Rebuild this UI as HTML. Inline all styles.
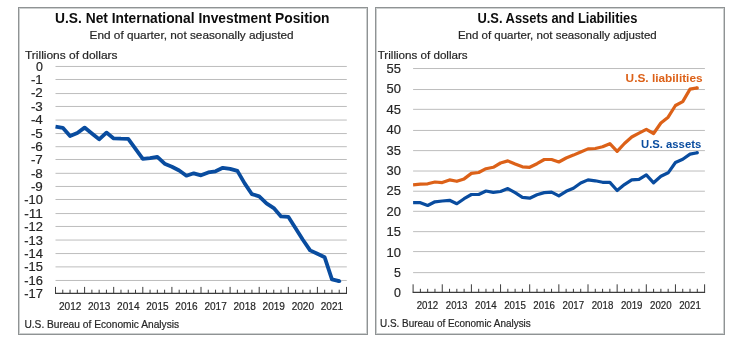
<!DOCTYPE html>
<html><head><meta charset="utf-8"><style>
html,body{margin:0;padding:0;background:#fff;width:739px;height:347px;overflow:hidden}
svg{display:block;will-change:transform;font-family:"Liberation Sans", sans-serif}
</style></head><body>
<svg width="739" height="347" viewBox="0 0 739 347">
<rect width="739" height="347" fill="#fff"/>
<rect x="18.5" y="7.5" width="349" height="327" fill="#fff" stroke="#8f9394" stroke-width="1"/>
<rect x="19.5" y="8.5" width="347" height="325" fill="none" stroke="#cdd0d0" stroke-width="1"/>
<rect x="375.5" y="7.5" width="349" height="327" fill="#fff" stroke="#8f9394" stroke-width="1"/>
<rect x="376.5" y="8.5" width="347" height="325" fill="none" stroke="#cdd0d0" stroke-width="1"/>
<line x1="55.50" y1="66.46" x2="346.80" y2="66.46" stroke="#bdbdbd" stroke-width="1"/>
<line x1="55.50" y1="79.49" x2="346.80" y2="79.49" stroke="#bdbdbd" stroke-width="1"/>
<line x1="55.50" y1="93.55" x2="346.80" y2="93.55" stroke="#bdbdbd" stroke-width="1"/>
<line x1="55.50" y1="106.46" x2="346.80" y2="106.46" stroke="#bdbdbd" stroke-width="1"/>
<line x1="55.50" y1="120.06" x2="346.80" y2="120.06" stroke="#bdbdbd" stroke-width="1"/>
<line x1="55.50" y1="133.55" x2="346.80" y2="133.55" stroke="#bdbdbd" stroke-width="1"/>
<line x1="55.50" y1="146.69" x2="346.80" y2="146.69" stroke="#bdbdbd" stroke-width="1"/>
<line x1="55.50" y1="159.49" x2="346.80" y2="159.49" stroke="#bdbdbd" stroke-width="1"/>
<line x1="55.50" y1="173.32" x2="346.80" y2="173.32" stroke="#bdbdbd" stroke-width="1"/>
<line x1="55.50" y1="186.46" x2="346.80" y2="186.46" stroke="#bdbdbd" stroke-width="1"/>
<line x1="55.50" y1="199.49" x2="346.80" y2="199.49" stroke="#bdbdbd" stroke-width="1"/>
<line x1="55.50" y1="213.55" x2="346.80" y2="213.55" stroke="#bdbdbd" stroke-width="1"/>
<line x1="55.50" y1="226.46" x2="346.80" y2="226.46" stroke="#bdbdbd" stroke-width="1"/>
<line x1="55.50" y1="240.06" x2="346.80" y2="240.06" stroke="#bdbdbd" stroke-width="1"/>
<line x1="55.50" y1="253.55" x2="346.80" y2="253.55" stroke="#bdbdbd" stroke-width="1"/>
<line x1="55.50" y1="266.88" x2="346.80" y2="266.88" stroke="#bdbdbd" stroke-width="1"/>
<line x1="55.50" y1="280.48" x2="346.80" y2="280.48" stroke="#bdbdbd" stroke-width="1"/>
<line x1="55.00" y1="293.40" x2="347.00" y2="293.40" stroke="#3c3c3c" stroke-width="1.2"/>
<line x1="55.50" y1="286.90" x2="55.50" y2="293.40" stroke="#3c3c3c" stroke-width="1"/>
<line x1="62.77" y1="289.70" x2="62.77" y2="293.40" stroke="#3c3c3c" stroke-width="1"/>
<line x1="70.05" y1="289.70" x2="70.05" y2="293.40" stroke="#3c3c3c" stroke-width="1"/>
<line x1="77.33" y1="289.70" x2="77.33" y2="293.40" stroke="#3c3c3c" stroke-width="1"/>
<line x1="84.60" y1="286.90" x2="84.60" y2="293.40" stroke="#3c3c3c" stroke-width="1"/>
<line x1="91.88" y1="289.70" x2="91.88" y2="293.40" stroke="#3c3c3c" stroke-width="1"/>
<line x1="99.15" y1="289.70" x2="99.15" y2="293.40" stroke="#3c3c3c" stroke-width="1"/>
<line x1="106.43" y1="289.70" x2="106.43" y2="293.40" stroke="#3c3c3c" stroke-width="1"/>
<line x1="113.70" y1="286.90" x2="113.70" y2="293.40" stroke="#3c3c3c" stroke-width="1"/>
<line x1="120.98" y1="289.70" x2="120.98" y2="293.40" stroke="#3c3c3c" stroke-width="1"/>
<line x1="128.25" y1="289.70" x2="128.25" y2="293.40" stroke="#3c3c3c" stroke-width="1"/>
<line x1="135.53" y1="289.70" x2="135.53" y2="293.40" stroke="#3c3c3c" stroke-width="1"/>
<line x1="142.80" y1="286.90" x2="142.80" y2="293.40" stroke="#3c3c3c" stroke-width="1"/>
<line x1="150.07" y1="289.70" x2="150.07" y2="293.40" stroke="#3c3c3c" stroke-width="1"/>
<line x1="157.35" y1="289.70" x2="157.35" y2="293.40" stroke="#3c3c3c" stroke-width="1"/>
<line x1="164.62" y1="289.70" x2="164.62" y2="293.40" stroke="#3c3c3c" stroke-width="1"/>
<line x1="171.90" y1="286.90" x2="171.90" y2="293.40" stroke="#3c3c3c" stroke-width="1"/>
<line x1="179.18" y1="289.70" x2="179.18" y2="293.40" stroke="#3c3c3c" stroke-width="1"/>
<line x1="186.45" y1="289.70" x2="186.45" y2="293.40" stroke="#3c3c3c" stroke-width="1"/>
<line x1="193.72" y1="289.70" x2="193.72" y2="293.40" stroke="#3c3c3c" stroke-width="1"/>
<line x1="201.00" y1="286.90" x2="201.00" y2="293.40" stroke="#3c3c3c" stroke-width="1"/>
<line x1="208.28" y1="289.70" x2="208.28" y2="293.40" stroke="#3c3c3c" stroke-width="1"/>
<line x1="215.55" y1="289.70" x2="215.55" y2="293.40" stroke="#3c3c3c" stroke-width="1"/>
<line x1="222.83" y1="289.70" x2="222.83" y2="293.40" stroke="#3c3c3c" stroke-width="1"/>
<line x1="230.10" y1="286.90" x2="230.10" y2="293.40" stroke="#3c3c3c" stroke-width="1"/>
<line x1="237.38" y1="289.70" x2="237.38" y2="293.40" stroke="#3c3c3c" stroke-width="1"/>
<line x1="244.65" y1="289.70" x2="244.65" y2="293.40" stroke="#3c3c3c" stroke-width="1"/>
<line x1="251.93" y1="289.70" x2="251.93" y2="293.40" stroke="#3c3c3c" stroke-width="1"/>
<line x1="259.20" y1="286.90" x2="259.20" y2="293.40" stroke="#3c3c3c" stroke-width="1"/>
<line x1="266.48" y1="289.70" x2="266.48" y2="293.40" stroke="#3c3c3c" stroke-width="1"/>
<line x1="273.75" y1="289.70" x2="273.75" y2="293.40" stroke="#3c3c3c" stroke-width="1"/>
<line x1="281.02" y1="289.70" x2="281.02" y2="293.40" stroke="#3c3c3c" stroke-width="1"/>
<line x1="288.30" y1="286.90" x2="288.30" y2="293.40" stroke="#3c3c3c" stroke-width="1"/>
<line x1="295.58" y1="289.70" x2="295.58" y2="293.40" stroke="#3c3c3c" stroke-width="1"/>
<line x1="302.85" y1="289.70" x2="302.85" y2="293.40" stroke="#3c3c3c" stroke-width="1"/>
<line x1="310.12" y1="289.70" x2="310.12" y2="293.40" stroke="#3c3c3c" stroke-width="1"/>
<line x1="317.40" y1="286.90" x2="317.40" y2="293.40" stroke="#3c3c3c" stroke-width="1"/>
<line x1="324.68" y1="289.70" x2="324.68" y2="293.40" stroke="#3c3c3c" stroke-width="1"/>
<line x1="331.95" y1="289.70" x2="331.95" y2="293.40" stroke="#3c3c3c" stroke-width="1"/>
<line x1="339.23" y1="289.70" x2="339.23" y2="293.40" stroke="#3c3c3c" stroke-width="1"/>
<line x1="346.50" y1="286.90" x2="346.50" y2="293.40" stroke="#3c3c3c" stroke-width="1"/>
<polyline points="55.50,126.60 62.77,127.80 70.05,136.10 77.33,133.00 84.60,127.60 91.88,133.50 99.15,139.30 106.43,132.60 113.70,138.40 120.98,138.70 128.25,138.80 135.53,148.90 142.80,158.90 150.07,158.20 157.35,156.80 164.62,163.70 171.90,166.70 179.18,170.50 186.45,175.70 193.72,173.30 201.00,175.30 208.28,172.40 215.55,171.30 222.83,167.80 230.10,168.80 237.38,170.90 244.65,183.40 251.93,194.20 259.20,196.30 266.48,203.30 273.75,208.10 281.02,216.40 288.30,216.80 295.58,228.30 302.85,239.80 310.12,250.40 317.40,253.80 324.68,257.30 331.95,279.40 339.23,281.20" fill="none" stroke="#094c9f" stroke-width="3.8" stroke-linejoin="round" stroke-linecap="butt"/>
<circle cx="339.23" cy="281.20" r="1.90" fill="#094c9f"/>
<line x1="413.10" y1="272.64" x2="704.90" y2="272.64" stroke="#bdbdbd" stroke-width="1"/>
<line x1="413.10" y1="251.59" x2="704.90" y2="251.59" stroke="#bdbdbd" stroke-width="1"/>
<line x1="413.10" y1="231.65" x2="704.90" y2="231.65" stroke="#bdbdbd" stroke-width="1"/>
<line x1="413.10" y1="211.32" x2="704.90" y2="211.32" stroke="#bdbdbd" stroke-width="1"/>
<line x1="413.10" y1="191.22" x2="704.90" y2="191.22" stroke="#bdbdbd" stroke-width="1"/>
<line x1="413.10" y1="171.02" x2="704.90" y2="171.02" stroke="#bdbdbd" stroke-width="1"/>
<line x1="413.10" y1="150.62" x2="704.90" y2="150.62" stroke="#bdbdbd" stroke-width="1"/>
<line x1="413.10" y1="130.44" x2="704.90" y2="130.44" stroke="#bdbdbd" stroke-width="1"/>
<line x1="413.10" y1="109.34" x2="704.90" y2="109.34" stroke="#bdbdbd" stroke-width="1"/>
<line x1="413.10" y1="89.52" x2="704.90" y2="89.52" stroke="#bdbdbd" stroke-width="1"/>
<line x1="413.10" y1="68.53" x2="704.90" y2="68.53" stroke="#bdbdbd" stroke-width="1"/>
<line x1="412.60" y1="292.30" x2="705.10" y2="292.30" stroke="#3c3c3c" stroke-width="1.2"/>
<line x1="413.10" y1="284.30" x2="413.10" y2="292.30" stroke="#3c3c3c" stroke-width="1"/>
<line x1="420.39" y1="288.80" x2="420.39" y2="292.30" stroke="#3c3c3c" stroke-width="1"/>
<line x1="427.68" y1="288.80" x2="427.68" y2="292.30" stroke="#3c3c3c" stroke-width="1"/>
<line x1="434.96" y1="288.80" x2="434.96" y2="292.30" stroke="#3c3c3c" stroke-width="1"/>
<line x1="442.25" y1="284.30" x2="442.25" y2="292.30" stroke="#3c3c3c" stroke-width="1"/>
<line x1="449.54" y1="288.80" x2="449.54" y2="292.30" stroke="#3c3c3c" stroke-width="1"/>
<line x1="456.83" y1="288.80" x2="456.83" y2="292.30" stroke="#3c3c3c" stroke-width="1"/>
<line x1="464.11" y1="288.80" x2="464.11" y2="292.30" stroke="#3c3c3c" stroke-width="1"/>
<line x1="471.40" y1="284.30" x2="471.40" y2="292.30" stroke="#3c3c3c" stroke-width="1"/>
<line x1="478.69" y1="288.80" x2="478.69" y2="292.30" stroke="#3c3c3c" stroke-width="1"/>
<line x1="485.98" y1="288.80" x2="485.98" y2="292.30" stroke="#3c3c3c" stroke-width="1"/>
<line x1="493.26" y1="288.80" x2="493.26" y2="292.30" stroke="#3c3c3c" stroke-width="1"/>
<line x1="500.55" y1="284.30" x2="500.55" y2="292.30" stroke="#3c3c3c" stroke-width="1"/>
<line x1="507.84" y1="288.80" x2="507.84" y2="292.30" stroke="#3c3c3c" stroke-width="1"/>
<line x1="515.12" y1="288.80" x2="515.12" y2="292.30" stroke="#3c3c3c" stroke-width="1"/>
<line x1="522.41" y1="288.80" x2="522.41" y2="292.30" stroke="#3c3c3c" stroke-width="1"/>
<line x1="529.70" y1="284.30" x2="529.70" y2="292.30" stroke="#3c3c3c" stroke-width="1"/>
<line x1="536.99" y1="288.80" x2="536.99" y2="292.30" stroke="#3c3c3c" stroke-width="1"/>
<line x1="544.27" y1="288.80" x2="544.27" y2="292.30" stroke="#3c3c3c" stroke-width="1"/>
<line x1="551.56" y1="288.80" x2="551.56" y2="292.30" stroke="#3c3c3c" stroke-width="1"/>
<line x1="558.85" y1="284.30" x2="558.85" y2="292.30" stroke="#3c3c3c" stroke-width="1"/>
<line x1="566.14" y1="288.80" x2="566.14" y2="292.30" stroke="#3c3c3c" stroke-width="1"/>
<line x1="573.42" y1="288.80" x2="573.42" y2="292.30" stroke="#3c3c3c" stroke-width="1"/>
<line x1="580.71" y1="288.80" x2="580.71" y2="292.30" stroke="#3c3c3c" stroke-width="1"/>
<line x1="588.00" y1="284.30" x2="588.00" y2="292.30" stroke="#3c3c3c" stroke-width="1"/>
<line x1="595.29" y1="288.80" x2="595.29" y2="292.30" stroke="#3c3c3c" stroke-width="1"/>
<line x1="602.58" y1="288.80" x2="602.58" y2="292.30" stroke="#3c3c3c" stroke-width="1"/>
<line x1="609.86" y1="288.80" x2="609.86" y2="292.30" stroke="#3c3c3c" stroke-width="1"/>
<line x1="617.15" y1="284.30" x2="617.15" y2="292.30" stroke="#3c3c3c" stroke-width="1"/>
<line x1="624.44" y1="288.80" x2="624.44" y2="292.30" stroke="#3c3c3c" stroke-width="1"/>
<line x1="631.73" y1="288.80" x2="631.73" y2="292.30" stroke="#3c3c3c" stroke-width="1"/>
<line x1="639.01" y1="288.80" x2="639.01" y2="292.30" stroke="#3c3c3c" stroke-width="1"/>
<line x1="646.30" y1="284.30" x2="646.30" y2="292.30" stroke="#3c3c3c" stroke-width="1"/>
<line x1="653.59" y1="288.80" x2="653.59" y2="292.30" stroke="#3c3c3c" stroke-width="1"/>
<line x1="660.88" y1="288.80" x2="660.88" y2="292.30" stroke="#3c3c3c" stroke-width="1"/>
<line x1="668.16" y1="288.80" x2="668.16" y2="292.30" stroke="#3c3c3c" stroke-width="1"/>
<line x1="675.45" y1="284.30" x2="675.45" y2="292.30" stroke="#3c3c3c" stroke-width="1"/>
<line x1="682.74" y1="288.80" x2="682.74" y2="292.30" stroke="#3c3c3c" stroke-width="1"/>
<line x1="690.03" y1="288.80" x2="690.03" y2="292.30" stroke="#3c3c3c" stroke-width="1"/>
<line x1="697.31" y1="288.80" x2="697.31" y2="292.30" stroke="#3c3c3c" stroke-width="1"/>
<line x1="704.60" y1="284.30" x2="704.60" y2="292.30" stroke="#3c3c3c" stroke-width="1"/>
<polyline points="413.10,184.80 420.39,184.20 427.68,183.80 434.96,182.00 442.25,182.60 449.54,179.90 456.83,181.30 464.11,178.90 471.40,173.40 478.69,172.50 485.98,168.70 493.26,167.30 500.55,163.00 507.84,160.90 515.12,164.00 522.41,166.80 529.70,167.30 536.99,163.70 544.27,159.50 551.56,159.50 558.85,162.00 566.14,158.00 573.42,155.10 580.71,152.00 588.00,148.90 595.29,148.50 602.58,146.80 609.86,143.70 617.15,151.40 624.44,143.50 631.73,137.00 639.01,133.20 646.30,129.30 653.59,133.50 660.88,123.00 668.16,117.20 675.45,105.50 682.74,101.60 690.03,89.10 697.31,87.90" fill="none" stroke="#dc6118" stroke-width="3.2" stroke-linejoin="round" stroke-linecap="butt"/>
<circle cx="697.31" cy="87.90" r="1.60" fill="#dc6118"/>
<polyline points="413.10,202.70 420.39,202.70 427.68,205.50 434.96,201.80 442.25,201.00 449.54,200.30 456.83,203.70 464.11,198.70 471.40,194.50 478.69,194.50 485.98,191.00 493.26,192.40 500.55,191.50 507.84,188.60 515.12,192.70 522.41,197.30 529.70,198.20 536.99,194.70 544.27,192.60 551.56,192.10 558.85,195.90 566.14,191.30 573.42,188.20 580.71,183.00 588.00,179.90 595.29,180.80 602.58,182.30 609.86,182.40 617.15,190.50 624.44,184.60 631.73,179.90 639.01,179.30 646.30,174.80 653.59,182.80 660.88,176.30 668.16,172.80 675.45,162.50 682.74,159.30 690.03,154.10 697.31,152.70" fill="none" stroke="#094c9f" stroke-width="3.2" stroke-linejoin="round" stroke-linecap="butt"/>
<circle cx="697.31" cy="152.70" r="1.60" fill="#094c9f"/>
<g opacity="0.999">
<text x="55.00" y="23.00" font-size="14.5" font-weight="bold" fill="#0d0d0d" text-anchor="start" textLength="274.50" lengthAdjust="spacingAndGlyphs">U.S. Net International Investment Position</text>
<text x="89.60" y="38.90" font-size="11.3" font-weight="normal" fill="#262626" text-anchor="start" textLength="204.00" lengthAdjust="spacingAndGlyphs" stroke="#262626" stroke-width="0.2">End of quarter, not seasonally adjusted</text>
<text x="25.00" y="58.60" font-size="11.8" font-weight="normal" fill="#262626" text-anchor="start" textLength="92.50" lengthAdjust="spacingAndGlyphs" stroke="#262626" stroke-width="0.2">Trillions of dollars</text>
<text x="42.80" y="70.70" font-size="12.0" font-weight="normal" fill="#262626" text-anchor="end" textLength="6.90" lengthAdjust="spacingAndGlyphs" stroke="#262626" stroke-width="0.2">0</text>
<text x="42.80" y="84.08" font-size="12.0" font-weight="normal" fill="#262626" text-anchor="end" textLength="11.90" lengthAdjust="spacingAndGlyphs" stroke="#262626" stroke-width="0.2">-1</text>
<text x="42.80" y="97.45" font-size="12.0" font-weight="normal" fill="#262626" text-anchor="end" textLength="11.90" lengthAdjust="spacingAndGlyphs" stroke="#262626" stroke-width="0.2">-2</text>
<text x="42.80" y="110.83" font-size="12.0" font-weight="normal" fill="#262626" text-anchor="end" textLength="11.90" lengthAdjust="spacingAndGlyphs" stroke="#262626" stroke-width="0.2">-3</text>
<text x="42.80" y="124.20" font-size="12.0" font-weight="normal" fill="#262626" text-anchor="end" textLength="11.90" lengthAdjust="spacingAndGlyphs" stroke="#262626" stroke-width="0.2">-4</text>
<text x="42.80" y="137.57" font-size="12.0" font-weight="normal" fill="#262626" text-anchor="end" textLength="11.90" lengthAdjust="spacingAndGlyphs" stroke="#262626" stroke-width="0.2">-5</text>
<text x="42.80" y="150.95" font-size="12.0" font-weight="normal" fill="#262626" text-anchor="end" textLength="11.90" lengthAdjust="spacingAndGlyphs" stroke="#262626" stroke-width="0.2">-6</text>
<text x="42.80" y="164.32" font-size="12.0" font-weight="normal" fill="#262626" text-anchor="end" textLength="11.90" lengthAdjust="spacingAndGlyphs" stroke="#262626" stroke-width="0.2">-7</text>
<text x="42.80" y="177.70" font-size="12.0" font-weight="normal" fill="#262626" text-anchor="end" textLength="11.90" lengthAdjust="spacingAndGlyphs" stroke="#262626" stroke-width="0.2">-8</text>
<text x="42.80" y="191.07" font-size="12.0" font-weight="normal" fill="#262626" text-anchor="end" textLength="11.90" lengthAdjust="spacingAndGlyphs" stroke="#262626" stroke-width="0.2">-9</text>
<text x="42.80" y="204.45" font-size="12.0" font-weight="normal" fill="#262626" text-anchor="end" textLength="18.60" lengthAdjust="spacingAndGlyphs" stroke="#262626" stroke-width="0.2">-10</text>
<text x="42.80" y="217.82" font-size="12.0" font-weight="normal" fill="#262626" text-anchor="end" textLength="18.60" lengthAdjust="spacingAndGlyphs" stroke="#262626" stroke-width="0.2">-11</text>
<text x="42.80" y="231.20" font-size="12.0" font-weight="normal" fill="#262626" text-anchor="end" textLength="18.60" lengthAdjust="spacingAndGlyphs" stroke="#262626" stroke-width="0.2">-12</text>
<text x="42.80" y="244.57" font-size="12.0" font-weight="normal" fill="#262626" text-anchor="end" textLength="18.60" lengthAdjust="spacingAndGlyphs" stroke="#262626" stroke-width="0.2">-13</text>
<text x="42.80" y="257.95" font-size="12.0" font-weight="normal" fill="#262626" text-anchor="end" textLength="18.60" lengthAdjust="spacingAndGlyphs" stroke="#262626" stroke-width="0.2">-14</text>
<text x="42.80" y="271.32" font-size="12.0" font-weight="normal" fill="#262626" text-anchor="end" textLength="18.60" lengthAdjust="spacingAndGlyphs" stroke="#262626" stroke-width="0.2">-15</text>
<text x="42.80" y="284.70" font-size="12.0" font-weight="normal" fill="#262626" text-anchor="end" textLength="18.60" lengthAdjust="spacingAndGlyphs" stroke="#262626" stroke-width="0.2">-16</text>
<text x="42.80" y="298.07" font-size="12.0" font-weight="normal" fill="#262626" text-anchor="end" textLength="18.60" lengthAdjust="spacingAndGlyphs" stroke="#262626" stroke-width="0.2">-17</text>
<text x="58.94" y="309.70" font-size="10.6" font-weight="normal" fill="#262626" text-anchor="start" textLength="22.40" lengthAdjust="spacingAndGlyphs" stroke="#262626" stroke-width="0.2">2012</text>
<text x="88.03" y="309.70" font-size="10.6" font-weight="normal" fill="#262626" text-anchor="start" textLength="22.40" lengthAdjust="spacingAndGlyphs" stroke="#262626" stroke-width="0.2">2013</text>
<text x="117.12" y="309.70" font-size="10.6" font-weight="normal" fill="#262626" text-anchor="start" textLength="22.40" lengthAdjust="spacingAndGlyphs" stroke="#262626" stroke-width="0.2">2014</text>
<text x="146.22" y="309.70" font-size="10.6" font-weight="normal" fill="#262626" text-anchor="start" textLength="22.40" lengthAdjust="spacingAndGlyphs" stroke="#262626" stroke-width="0.2">2015</text>
<text x="175.31" y="309.70" font-size="10.6" font-weight="normal" fill="#262626" text-anchor="start" textLength="22.40" lengthAdjust="spacingAndGlyphs" stroke="#262626" stroke-width="0.2">2016</text>
<text x="204.40" y="309.70" font-size="10.6" font-weight="normal" fill="#262626" text-anchor="start" textLength="22.40" lengthAdjust="spacingAndGlyphs" stroke="#262626" stroke-width="0.2">2017</text>
<text x="233.49" y="309.70" font-size="10.6" font-weight="normal" fill="#262626" text-anchor="start" textLength="22.40" lengthAdjust="spacingAndGlyphs" stroke="#262626" stroke-width="0.2">2018</text>
<text x="262.58" y="309.70" font-size="10.6" font-weight="normal" fill="#262626" text-anchor="start" textLength="22.40" lengthAdjust="spacingAndGlyphs" stroke="#262626" stroke-width="0.2">2019</text>
<text x="291.67" y="309.70" font-size="10.6" font-weight="normal" fill="#262626" text-anchor="start" textLength="22.40" lengthAdjust="spacingAndGlyphs" stroke="#262626" stroke-width="0.2">2020</text>
<text x="320.76" y="309.70" font-size="10.6" font-weight="normal" fill="#262626" text-anchor="start" textLength="22.40" lengthAdjust="spacingAndGlyphs" stroke="#262626" stroke-width="0.2">2021</text>
<text x="24.40" y="328.10" font-size="10.5" font-weight="normal" fill="#262626" text-anchor="start" textLength="154.80" lengthAdjust="spacingAndGlyphs" stroke="#262626" stroke-width="0.2">U.S. Bureau of Economic Analysis</text>
<text x="477.40" y="22.60" font-size="14.5" font-weight="bold" fill="#0d0d0d" text-anchor="start" textLength="160.00" lengthAdjust="spacingAndGlyphs">U.S. Assets and Liabilities</text>
<text x="457.90" y="38.75" font-size="11.3" font-weight="normal" fill="#262626" text-anchor="start" textLength="198.80" lengthAdjust="spacingAndGlyphs" stroke="#262626" stroke-width="0.2">End of quarter, not seasonally adjusted</text>
<text x="377.70" y="58.80" font-size="11.8" font-weight="normal" fill="#262626" text-anchor="start" textLength="90.00" lengthAdjust="spacingAndGlyphs" stroke="#262626" stroke-width="0.2">Trillions of dollars</text>
<text x="400.90" y="297.30" font-size="12.6" font-weight="normal" fill="#262626" text-anchor="end" textLength="6.90" lengthAdjust="spacingAndGlyphs" stroke="#262626" stroke-width="0.2">0</text>
<text x="400.90" y="276.92" font-size="12.6" font-weight="normal" fill="#262626" text-anchor="end" textLength="6.90" lengthAdjust="spacingAndGlyphs" stroke="#262626" stroke-width="0.2">5</text>
<text x="400.90" y="256.53" font-size="12.6" font-weight="normal" fill="#262626" text-anchor="end" textLength="14.40" lengthAdjust="spacingAndGlyphs" stroke="#262626" stroke-width="0.2">10</text>
<text x="400.90" y="236.15" font-size="12.6" font-weight="normal" fill="#262626" text-anchor="end" textLength="14.40" lengthAdjust="spacingAndGlyphs" stroke="#262626" stroke-width="0.2">15</text>
<text x="400.90" y="215.76" font-size="12.6" font-weight="normal" fill="#262626" text-anchor="end" textLength="14.40" lengthAdjust="spacingAndGlyphs" stroke="#262626" stroke-width="0.2">20</text>
<text x="400.90" y="195.38" font-size="12.6" font-weight="normal" fill="#262626" text-anchor="end" textLength="14.40" lengthAdjust="spacingAndGlyphs" stroke="#262626" stroke-width="0.2">25</text>
<text x="400.90" y="174.99" font-size="12.6" font-weight="normal" fill="#262626" text-anchor="end" textLength="14.40" lengthAdjust="spacingAndGlyphs" stroke="#262626" stroke-width="0.2">30</text>
<text x="400.90" y="154.60" font-size="12.6" font-weight="normal" fill="#262626" text-anchor="end" textLength="14.40" lengthAdjust="spacingAndGlyphs" stroke="#262626" stroke-width="0.2">35</text>
<text x="400.90" y="134.22" font-size="12.6" font-weight="normal" fill="#262626" text-anchor="end" textLength="14.40" lengthAdjust="spacingAndGlyphs" stroke="#262626" stroke-width="0.2">40</text>
<text x="400.90" y="113.83" font-size="12.6" font-weight="normal" fill="#262626" text-anchor="end" textLength="14.40" lengthAdjust="spacingAndGlyphs" stroke="#262626" stroke-width="0.2">45</text>
<text x="400.90" y="93.45" font-size="12.6" font-weight="normal" fill="#262626" text-anchor="end" textLength="14.40" lengthAdjust="spacingAndGlyphs" stroke="#262626" stroke-width="0.2">50</text>
<text x="400.90" y="73.06" font-size="12.6" font-weight="normal" fill="#262626" text-anchor="end" textLength="14.40" lengthAdjust="spacingAndGlyphs" stroke="#262626" stroke-width="0.2">55</text>
<text x="416.68" y="309.00" font-size="10.6" font-weight="normal" fill="#262626" text-anchor="start" textLength="21.60" lengthAdjust="spacingAndGlyphs" stroke="#262626" stroke-width="0.2">2012</text>
<text x="445.85" y="309.00" font-size="10.6" font-weight="normal" fill="#262626" text-anchor="start" textLength="21.60" lengthAdjust="spacingAndGlyphs" stroke="#262626" stroke-width="0.2">2013</text>
<text x="475.02" y="309.00" font-size="10.6" font-weight="normal" fill="#262626" text-anchor="start" textLength="21.60" lengthAdjust="spacingAndGlyphs" stroke="#262626" stroke-width="0.2">2014</text>
<text x="504.19" y="309.00" font-size="10.6" font-weight="normal" fill="#262626" text-anchor="start" textLength="21.60" lengthAdjust="spacingAndGlyphs" stroke="#262626" stroke-width="0.2">2015</text>
<text x="533.37" y="309.00" font-size="10.6" font-weight="normal" fill="#262626" text-anchor="start" textLength="21.60" lengthAdjust="spacingAndGlyphs" stroke="#262626" stroke-width="0.2">2016</text>
<text x="562.54" y="309.00" font-size="10.6" font-weight="normal" fill="#262626" text-anchor="start" textLength="21.60" lengthAdjust="spacingAndGlyphs" stroke="#262626" stroke-width="0.2">2017</text>
<text x="591.71" y="309.00" font-size="10.6" font-weight="normal" fill="#262626" text-anchor="start" textLength="21.60" lengthAdjust="spacingAndGlyphs" stroke="#262626" stroke-width="0.2">2018</text>
<text x="620.88" y="309.00" font-size="10.6" font-weight="normal" fill="#262626" text-anchor="start" textLength="21.60" lengthAdjust="spacingAndGlyphs" stroke="#262626" stroke-width="0.2">2019</text>
<text x="650.05" y="309.00" font-size="10.6" font-weight="normal" fill="#262626" text-anchor="start" textLength="21.60" lengthAdjust="spacingAndGlyphs" stroke="#262626" stroke-width="0.2">2020</text>
<text x="679.22" y="309.00" font-size="10.6" font-weight="normal" fill="#262626" text-anchor="start" textLength="21.60" lengthAdjust="spacingAndGlyphs" stroke="#262626" stroke-width="0.2">2021</text>
<text x="380.00" y="327.40" font-size="10.5" font-weight="normal" fill="#262626" text-anchor="start" textLength="150.80" lengthAdjust="spacingAndGlyphs" stroke="#262626" stroke-width="0.2">U.S. Bureau of Economic Analysis</text>
<text x="625.60" y="82.20" font-size="11.2" font-weight="bold" fill="#dc6118" text-anchor="start" textLength="77.00" lengthAdjust="spacingAndGlyphs">U.S. liabilities</text>
<text x="641.00" y="148.10" font-size="11.2" font-weight="bold" fill="#094c9f" text-anchor="start" textLength="60.20" lengthAdjust="spacingAndGlyphs">U.S. assets</text>
</g>
</svg>
</body></html>
